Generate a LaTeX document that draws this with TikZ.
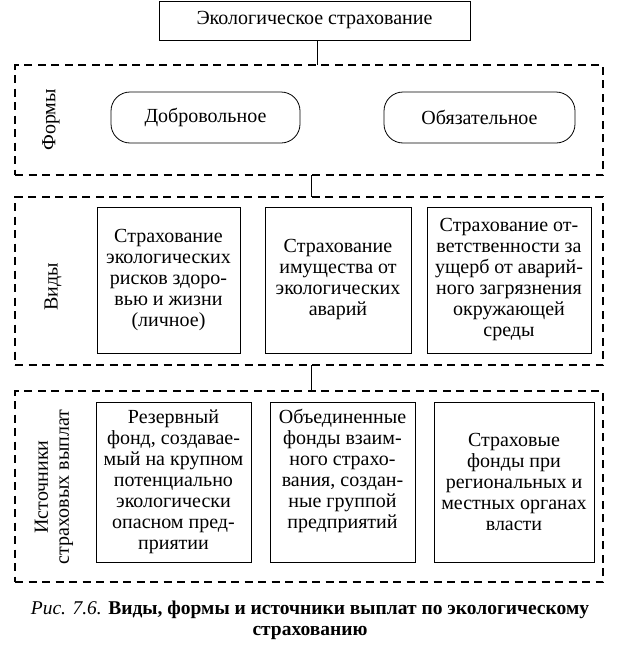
\documentclass[tikz,border=0pt]{standalone}
\usepackage{fontspec}
\setmainfont{Liberation Serif}
\begin{document}
\begin{tikzpicture}[x=1pt,y=-1pt,
  every node/.style={inner sep=0pt,outer sep=0pt},
  txt/.style={font=\fontsize{20}{21}\selectfont,align=center},
  plainbox/.style={draw,line width=0.8pt,txt},
  roundbox/.style={draw,line width=0.8pt,rounded corners=19pt,txt},
  groupbox/.style={draw,line width=1.6pt,dash pattern=on 8pt off 5.5pt},
  sidelabel/.style={txt,rotate=90},
  link/.style={line width=0.8pt}]
\useasboundingbox (0,0) rectangle (617,648);
% top
\node[plainbox,minimum width=311pt,minimum height=39pt] (top) at (314.5,20.5) {Экологическое страхование};
% group boxes
\node[groupbox,minimum width=588pt,minimum height=110pt] (g1) at (309,120) {};
\node[groupbox,minimum width=588pt,minimum height=168pt] (g2) at (309,281) {};
\node[groupbox,minimum width=588pt,minimum height=191pt] (g3) at (309,486.5) {};
% side labels
\node[sidelabel] (l1) at (51,120) {Формы};
\node[sidelabel] (l2) at (53,287) {Виды};
\node[sidelabel] (l3) at (54,487) {Источники\\страховых выплат};
% forms
\node[roundbox,minimum width=189pt,minimum height=51pt] (f1) at (205.5,117.5) {Добровольное};
\node[roundbox,minimum width=191pt,minimum height=51pt] (f2) at (479.5,117.5) {Обязательное};
% kinds
\node[plainbox,minimum width=143pt,minimum height=146pt] (v1) at (168.5,280) {Страхование\\экологических\\рисков здоро-\\вью и жизни\\(личное)};
\node[plainbox,minimum width=146pt,minimum height=146pt] (v2) at (338,280) {Страхование\\имущества от\\экологических\\аварий};
\node[plainbox,minimum width=164pt,minimum height=146pt] (v3) at (509,280) {Страхование от-\\ветственности за\\ущерб от аварий-\\ного загрязнения\\окружающей\\среды};
% sources
\node[plainbox,minimum width=155pt,minimum height=160pt] (s1) at (173.5,482) {Резервный\\фонд, создавае-\\мый на крупном\\потенциально\\экологически\\опасном пред-\\приятии};
\node[plainbox,minimum width=145pt,minimum height=160pt] (s2) at (342.5,482) {Объединенные\\фонды взаим-\\ного страхо-\\вания, создан-\\ные группой\\предприятий\\\strut};
\node[plainbox,minimum width=160pt,minimum height=160pt] (s3) at (514,482) {Страховые\\фонды при\\региональных и\\местных органах\\власти};
% links
\draw[link] (top.south -| 317,0) -- (g1.north -| 317,0);
\draw[link] (g1.south -| 311,0) -- (g2.north -| 311,0);
\draw[link] (g2.south -| 311,0) -- (g3.north -| 311,0);
% caption
\node[txt,font=\fontsize{19.5}{21}\selectfont] (cap) at (310,620) {\textit{Рис. 7.6.} \textbf{Виды, формы и источники выплат по экологическому}\\\textbf{страхованию}};
\end{tikzpicture}
\end{document}
